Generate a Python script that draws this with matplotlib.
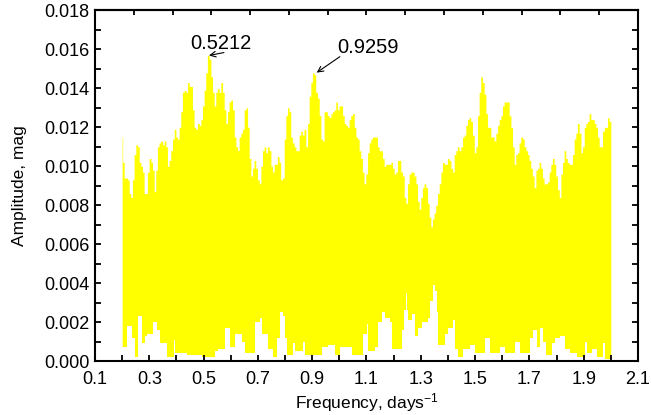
import numpy as np
import matplotlib
matplotlib.use("Agg")
from matplotlib import pyplot as plt

plt.rcParams['font.family'] = ['Liberation Sans', 'DejaVu Sans']
plt.rcParams['mathtext.fontset'] = 'custom'
plt.rcParams['mathtext.rm'] = 'Liberation Sans'
plt.rcParams['mathtext.it'] = 'Liberation Sans'

# upper envelope of the amplitude spectrum
freq_top = [
    0.200, 0.204, 0.211, 0.217, 0.223, 0.229, 0.235, 0.241, 0.247, 0.254,
    0.260, 0.266, 0.272, 0.278, 0.284, 0.290, 0.296, 0.303, 0.309, 0.315,
    0.321, 0.327, 0.333, 0.339, 0.346, 0.352, 0.358, 0.364, 0.370, 0.376,
    0.382, 0.389, 0.395, 0.401, 0.407, 0.413, 0.419, 0.425, 0.432, 0.438,
    0.444, 0.450, 0.456, 0.462, 0.468, 0.474, 0.481, 0.487, 0.493, 0.499,
    0.505, 0.511, 0.517, 0.524, 0.530, 0.536, 0.542, 0.548, 0.554, 0.560,
    0.567, 0.573, 0.579, 0.585, 0.591, 0.597, 0.603, 0.610, 0.616, 0.622,
    0.628, 0.634, 0.640, 0.646,
    0.653, 0.659, 0.665, 0.671, 0.677, 0.683, 0.689, 0.695, 0.702, 0.708,
    0.714, 0.720, 0.726, 0.732, 0.738, 0.745, 0.751, 0.757, 0.763, 0.769,
    0.775, 0.781, 0.787, 0.794, 0.800, 0.806, 0.812, 0.818, 0.824, 0.830,
    0.837, 0.843, 0.849, 0.855, 0.861, 0.867, 0.873, 0.880, 0.886, 0.892,
    0.898, 0.904, 0.910, 0.916, 0.923, 0.929, 0.935, 0.941, 0.947, 0.953,
    0.959, 0.966, 0.972, 0.978, 0.984, 0.990, 0.996, 1.002, 1.009, 1.015,
    1.021, 1.027, 1.033, 1.039, 1.045, 1.052, 1.058, 1.064, 1.070, 1.076,
    1.082, 1.088, 1.094, 1.101, 1.107, 1.113, 1.119, 1.125,
    1.131, 1.137, 1.144, 1.150, 1.156, 1.162, 1.168, 1.174, 1.180, 1.187,
    1.193, 1.199, 1.205, 1.211, 1.217, 1.223, 1.230, 1.236, 1.242, 1.248,
    1.254, 1.260, 1.266, 1.272, 1.279, 1.285, 1.291, 1.297, 1.303, 1.309,
    1.315, 1.322, 1.328, 1.334, 1.340, 1.346, 1.352, 1.358, 1.365, 1.371,
    1.377, 1.383, 1.389, 1.395, 1.401, 1.408, 1.414, 1.420, 1.426, 1.432,
    1.438, 1.444, 1.451, 1.457, 1.463, 1.469, 1.475, 1.481, 1.487, 1.494,
    1.500, 1.506, 1.512, 1.518, 1.524, 1.530, 1.537, 1.543, 1.549, 1.555,
    1.561, 1.567, 1.573, 1.580, 1.586, 1.592, 1.598, 1.604,
    1.610, 1.616, 1.622, 1.629, 1.635, 1.641, 1.647, 1.653, 1.659, 1.665,
    1.672, 1.678, 1.684, 1.690, 1.696, 1.702, 1.708, 1.714, 1.721, 1.727,
    1.733, 1.739, 1.745, 1.751, 1.757, 1.764, 1.770, 1.776, 1.782, 1.788,
    1.794, 1.800, 1.807, 1.813, 1.819, 1.825, 1.831, 1.837, 1.843, 1.850,
    1.856, 1.862, 1.868, 1.874, 1.880, 1.887, 1.893, 1.899, 1.905, 1.911,
    1.917, 1.923, 1.930, 1.936, 1.942, 1.948, 1.954, 1.960, 1.966, 1.973,
    1.979, 1.985, 1.991, 1.997, 2.000,
]
amp_top = [
    0.0115, 0.0102, 0.0094, 0.0094, 0.0093, 0.0086, 0.0084, 0.0093, 0.0106, 0.0111,
    0.0110, 0.0102, 0.0100, 0.0097, 0.0086, 0.0086, 0.0097, 0.0104, 0.0102, 0.0098,
    0.0087, 0.0098, 0.0110, 0.0112, 0.0113, 0.0111, 0.0113, 0.0110, 0.0100, 0.0103,
    0.0108, 0.0114, 0.0119, 0.0115, 0.0114, 0.0120, 0.0128, 0.0138, 0.0139, 0.0138,
    0.0143, 0.0141, 0.0141, 0.0129, 0.0120, 0.0119, 0.0122, 0.0121, 0.0124, 0.0131,
    0.0139, 0.0148, 0.0157, 0.0155, 0.0146, 0.0138, 0.0131, 0.0138, 0.0140, 0.0138,
    0.0143, 0.0138, 0.0129, 0.0122, 0.0128, 0.0133, 0.0134, 0.0129, 0.0115, 0.0110,
    0.0108, 0.0115, 0.0117, 0.0119,
    0.0129, 0.0130, 0.0120, 0.0104, 0.0095, 0.0099, 0.0103, 0.0099, 0.0093, 0.0091,
    0.0100, 0.0108, 0.0110, 0.0107, 0.0110, 0.0108, 0.0100, 0.0097, 0.0101, 0.0101,
    0.0105, 0.0102, 0.0093, 0.0094, 0.0114, 0.0126, 0.0130, 0.0128, 0.0115, 0.0112,
    0.0110, 0.0108, 0.0108, 0.0116, 0.0118, 0.0116, 0.0119, 0.0110, 0.0122, 0.0136,
    0.0143, 0.0148, 0.0147, 0.0138, 0.0135, 0.0126, 0.0114, 0.0113, 0.0128, 0.0128,
    0.0126, 0.0125, 0.0127, 0.0128, 0.0129, 0.0133, 0.0129, 0.0131, 0.0131, 0.0126,
    0.0122, 0.0121, 0.0120, 0.0124, 0.0126, 0.0127, 0.0120, 0.0115, 0.0114, 0.0108,
    0.0104, 0.0097, 0.0091, 0.0096, 0.0107, 0.0112, 0.0114, 0.0115,
    0.0115, 0.0115, 0.0110, 0.0108, 0.0108, 0.0104, 0.0100, 0.0101, 0.0101, 0.0101,
    0.0102, 0.0099, 0.0096, 0.0097, 0.0103, 0.0103, 0.0097, 0.0095, 0.0084, 0.0081,
    0.0091, 0.0096, 0.0097, 0.0097, 0.0095, 0.0091, 0.0082, 0.0078, 0.0084, 0.0089,
    0.0091, 0.0089, 0.0081, 0.0074, 0.0069, 0.0073, 0.0076, 0.0080, 0.0086, 0.0091,
    0.0097, 0.0102, 0.0101, 0.0101, 0.0104, 0.0103, 0.0099, 0.0097, 0.0106, 0.0108,
    0.0110, 0.0108, 0.0110, 0.0115, 0.0116, 0.0121, 0.0124, 0.0125, 0.0123, 0.0116,
    0.0107, 0.0110, 0.0126, 0.0138, 0.0146, 0.0143, 0.0137, 0.0127, 0.0120, 0.0120,
    0.0115, 0.0115, 0.0113, 0.0117, 0.0121, 0.0124, 0.0126, 0.0131,
    0.0133, 0.0133, 0.0133, 0.0126, 0.0120, 0.0110, 0.0101, 0.0106, 0.0107, 0.0112,
    0.0115, 0.0114, 0.0110, 0.0108, 0.0106, 0.0103, 0.0099, 0.0095, 0.0089, 0.0098,
    0.0099, 0.0102, 0.0099, 0.0094, 0.0091, 0.0091, 0.0092, 0.0097, 0.0101, 0.0104,
    0.0101, 0.0095, 0.0088, 0.0084, 0.0096, 0.0102, 0.0108, 0.0104, 0.0102, 0.0101,
    0.0101, 0.0106, 0.0114, 0.0117, 0.0122, 0.0117, 0.0107, 0.0110, 0.0120, 0.0122,
    0.0123, 0.0127, 0.0124, 0.0124, 0.0122, 0.0120, 0.0115, 0.0110, 0.0110, 0.0118,
    0.0120, 0.0120, 0.0125, 0.0123, 0.0123,
]

# lower envelope (white gaps under the dense spectrum)
freq_low = [
    0.198, 0.201, 0.219, 0.235, 0.247, 0.260, 0.272, 0.284, 0.290, 0.315,
    0.327, 0.339, 0.364, 0.392, 0.395, 0.438, 0.493, 0.542, 0.554, 0.579,
    0.597, 0.616, 0.640,
    0.652, 0.689, 0.708, 0.714, 0.738, 0.757, 0.769, 0.781, 0.794, 0.800,
    0.806, 0.830, 0.837, 0.867, 0.873, 0.935, 0.959, 0.984, 1.002, 1.045,
    1.088, 1.101, 1.107,
    1.131, 1.144, 1.156, 1.168, 1.187, 1.193, 1.230, 1.239, 1.244, 1.248,
    1.254, 1.266, 1.279, 1.291, 1.303, 1.328, 1.334, 1.346, 1.352, 1.358,
    1.365, 1.389, 1.401, 1.420, 1.426, 1.438, 1.457, 1.481, 1.500, 1.536,
    1.555, 1.592,
    1.610, 1.647, 1.665, 1.702, 1.714, 1.727, 1.739, 1.751, 1.763, 1.782,
    1.794, 1.813, 1.831, 1.849, 1.874, 1.905, 1.911, 1.929, 1.948, 1.972,
    1.978, 2.000,
]
amp_low = [
    0.0030, 0.0007, 0.0018, 0.0012, 0.0002, 0.0023, 0.0009, 0.0013, 0.0014, 0.0020,
    0.0016, 0.0009, 0.0002, 0.0011, 0.0004, 0.0003, 0.0002, 0.0005, 0.0006, 0.0017,
    0.0007, 0.0014, 0.0010,
    0.0004, 0.0020, 0.0022, 0.0014, 0.0006, 0.0002, 0.0012, 0.0025, 0.0023, 0.0012,
    0.0003, 0.0009, 0.0005, 0.0010, 0.0003, 0.0007, 0.0008, 0.0003, 0.0007, 0.0003,
    0.0014, 0.0019, 0.0005,
    0.0007, 0.0020, 0.0025, 0.0022, 0.0020, 0.0006, 0.0016, 0.0026, 0.0035, 0.0026,
    0.0021, 0.0024, 0.0013, 0.0017, 0.0020, 0.0022, 0.0031, 0.0039, 0.0036, 0.0025,
    0.0008, 0.0014, 0.0017, 0.0021, 0.0006, 0.0002, 0.0006, 0.0008, 0.0004, 0.0012,
    0.0004, 0.0007,
    0.0004, 0.0010, 0.0004, 0.0012, 0.0016, 0.0007, 0.0017, 0.0010, 0.0003, 0.0009,
    0.0012, 0.0013, 0.0006, 0.0004, 0.0002, 0.0010, 0.0004, 0.0006, 0.0002, 0.0009,
    0.0001, 0.0001,
]

peak_freqs = [0.520, 0.9166]
peak_amps = [0.01569, 0.01481]
peak_labels = ["0.5212", "0.9259"]

fig = plt.figure(figsize=(6.51, 4.15), dpi=100)
ax = fig.add_axes([0.1459, 0.1301, 0.8341, 0.8446])

ax.fill_between(freq_top, 0, amp_top, step='mid', color='#FFFF00',
                linewidth=0, zorder=1)
ax.fill_between(freq_low, 0, amp_low, step='post', color='white',
                linewidth=0, zorder=1.5)

ax.set_xlim(0.1, 2.1)
ax.set_ylim(0, 0.018)
ax.set_xticks(np.arange(0.1, 2.11, 0.2))
ax.set_xticks(np.arange(0.2, 2.01, 0.2), minor=True)
ax.set_xticklabels(["%.1f" % v for v in np.arange(0.1, 2.11, 0.2)])
ax.set_yticks(np.arange(0, 0.0181, 0.002))
ax.set_yticks(np.arange(0.001, 0.018, 0.002), minor=True)
ax.set_yticklabels(["%.3f" % v for v in np.arange(0, 0.0181, 0.002)])

ax.tick_params(axis='both', which='both', direction='in', width=1.3,
               length=4, labelsize=13, colors='black')
ax.tick_params(axis='x', which='both', top=False, pad=7)
ax.tick_params(axis='y', which='both', right=True, pad=4)

# top axis has its own tick spacing (14 intervals), no labels
top = ax.secondary_xaxis('top')
top.set_xticks(np.linspace(0.1, 2.1, 15))
top.tick_params(direction='in', length=3.5, width=1.3, labeltop=False)

for sp in list(ax.spines.values()) + [top.spines['top']]:
    sp.set_linewidth(1.5)

ax.set_xlabel("Frequency, days$^{-1}$", fontsize=12.5)
ax.set_ylabel("Amplitude, mag", fontsize=12.5)
ax.xaxis.set_label_coords(0.5, -0.085)
ax.yaxis.set_label_coords(-0.125, 0.5)

# peak annotations
ax.annotate("", xy=(peak_freqs[0], peak_amps[0]), xytext=(0.575, 0.01584),
            arrowprops=dict(arrowstyle='->', lw=0.8, color='black',
                            shrinkA=0, shrinkB=0))
ax.text(0.564, 0.01628, peak_labels[0], ha='center', va='center', fontsize=14.5)
ax.annotate("", xy=(peak_freqs[1], peak_amps[1]), xytext=(1.002, 0.01563),
            arrowprops=dict(arrowstyle='->', lw=0.8, color='black',
                            shrinkA=0, shrinkB=0))
ax.text(1.107, 0.0161, peak_labels[1], ha='center', va='center', fontsize=14.5)

fig.savefig("out.png", dpi=100)
